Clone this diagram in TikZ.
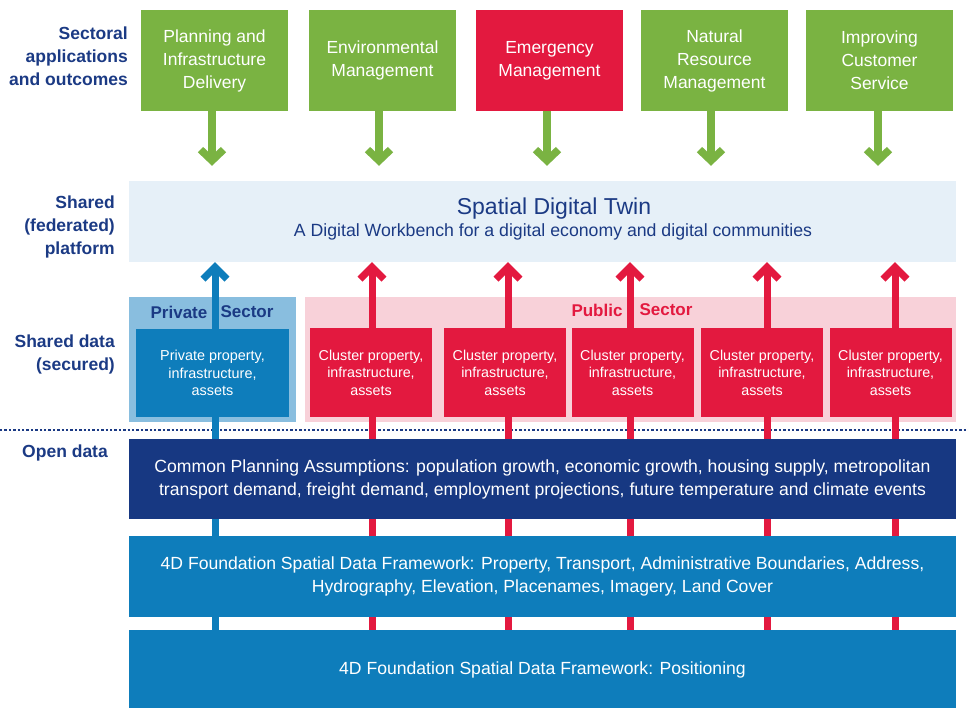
\documentclass[tikz,border=0pt]{standalone}
\usepackage{fontspec}
\setmainfont{Liberation Sans}
\usetikzlibrary{arrows.meta}
\definecolor{dtgreen}{HTML}{7AB342}
\definecolor{dtred}{HTML}{E3193F}
\definecolor{dtnavy}{HTML}{1B3A84}
\definecolor{dtband}{HTML}{173882}
\definecolor{dtblue}{HTML}{0E7DBB}
\definecolor{dtlight}{HTML}{E6F0F8}
\definecolor{dtprivate}{HTML}{89BEDF}
\definecolor{dtpink}{HTML}{F8D1D9}
\pgfdeclarelayer{bg}
\pgfdeclarelayer{mid}
\pgfsetlayers{bg,mid,main}
\tikzset{
  sidelabel/.style={anchor=east, align=right, text=dtnavy, inner sep=0pt,
    font=\fontsize{17.5}{23}\selectfont\bfseries},
  topbox/.style={rectangle, inner sep=0pt, minimum width=147pt, minimum height=101pt,
    align=center, text=white, font=\fontsize{17.5}{23}\selectfont},
  clusterbox/.style={rectangle, fill=dtred, inner sep=0pt, minimum width=122pt, minimum height=89pt,
    align=center, text=white, font=\fontsize{14.3}{17.5}\selectfont},
  band/.style={rectangle, inner sep=0pt, minimum width=827pt, align=center, text=white,
    font=\fontsize{17.6}{23}\selectfont},
  sectorlabel/.style={inner sep=0pt, font=\fontsize{17}{20}\selectfont\bfseries},
  downarrow/.style={draw=dtgreen, line width=8pt,
    -{Straight Barb[length=11pt, width=23pt, line width=7.5pt]}, shorten >=15pt},
  uparrow/.style={line width=7pt,
    -{Straight Barb[length=12pt, width=24pt, line width=7pt]}},
}
\begin{document}
\begin{tikzpicture}[x=1pt, y=-1pt]
\useasboundingbox (0,0) rectangle (966,707);

% side labels
\node[sidelabel] (lsect) at (128,56) {Sectoral\\applications\\and outcomes};
\node[sidelabel] (lplat) at (115,227) {Shared\\(federated)\\platform};
\node[sidelabel] (lsdata) at (115,354.5) {Shared data\\(secured)};
\node[sidelabel] (lopen) at (108,453) {Open data};

% top boxes
\node[topbox, fill=dtgreen] (g1) at (214.5,60.5) {Planning and\\Infrastructure\\Delivery};
\node[topbox, fill=dtgreen] (g2) at (382.5,60.5) {Environmental\\Management};
\node[topbox, fill=dtred]   (g3) at (549.5,60.5) {Emergency\\Management};
\node[topbox, fill=dtgreen] (g4) at (714.5,60.5) {Natural\\Resource\\Management};
\node[topbox, fill=dtgreen] (g5) at (879.5,60.5) {Improving\\Customer\\Service};

% platform
\node[rectangle, fill=dtlight, inner sep=0pt, minimum width=827pt, minimum height=81pt] (plat) at (542.5,221.5) {};
\node[inner sep=0pt, text=dtnavy, font=\fontsize{23}{26}\selectfont] (ptitle) at (554,208.5) {Spatial Digital Twin};
\node[inner sep=0pt, text=dtnavy, font=\fontsize{17.7}{20}\selectfont] (psub) at (553,232) {A Digital Workbench for a digital economy and digital communities};

% green arrows
\foreach \g/\dx in {g1/-2.5, g2/-3.5, g3/-2.5, g4/-3.5, g5/-1.5}
  \draw[downarrow] ([xshift=\dx pt]\g.south) -- ([xshift=\dx pt]\g.south |- plat.north);

% sector outer boxes
\begin{pgfonlayer}{bg}
\node[rectangle, fill=dtprivate, inner sep=0pt, minimum width=167pt, minimum height=125pt] (privout) at (212.5,359.5) {};
\node[rectangle, fill=dtpink, inner sep=0pt, minimum width=651pt, minimum height=125pt] (pubout) at (630.5,359.5) {};
\coordinate (dl) at (0,430);
\coordinate (dr) at (966,430);
\draw[dtnavy, line width=2.4pt, dash pattern=on 2.4pt off 2pt] (dl) -- (dr);
\end{pgfonlayer}

\node[sectorlabel, text=dtnavy] (privA) at (179,312) {Private};
\node[sectorlabel, text=dtnavy] (privB) at (247,312) {Sector};
\node[sectorlabel, text=dtred] (pubA) at (597,310) {Public};
\node[sectorlabel, text=dtred] (pubB) at (666,310) {Sector};

% inner boxes
\node[rectangle, fill=dtblue, inner sep=0pt, minimum width=153pt, minimum height=88pt,
  align=center, text=white, font=\fontsize{14.4}{17.5}\selectfont] (priv) at (212.5,373) {Private property,\\infrastructure,\\assets};
\node[clusterbox] (c1) at (371,372.5) {Cluster property,\\infrastructure,\\assets};
\node[clusterbox] (c2) at (505,372.5) {Cluster property,\\infrastructure,\\assets};
\node[clusterbox] (c3) at (632.5,372.5) {Cluster property,\\infrastructure,\\assets};
\node[clusterbox] (c4) at (762,372.5) {Cluster property,\\infrastructure,\\assets};
\node[clusterbox] (c5) at (890.5,372.5) {Cluster property,\\infrastructure,\\assets};

% bands
\node[band, fill=dtband, minimum height=80pt] (common) at (542.5,479) {Common Planning Assumptions: population growth, economic growth, housing supply, metropolitan\\transport demand, freight demand, employment projections, future temperature and climate events};
\node[band, fill=dtblue, minimum height=81pt] (fsdf) at (542.5,576.5) {4D Foundation Spatial Data Framework: Property, Transport, Administrative Boundaries, Address,\\Hydrography, Elevation, Placenames, Imagery, Land Cover};
\node[band, fill=dtblue, minimum height=79pt] (pos) at (542.5,669.5) {4D Foundation Spatial Data Framework: Positioning};

% up arrows
\begin{pgfonlayer}{mid}
\coordinate (b0) at (215,650);
\coordinate (b1) at (372,650);
\coordinate (b2) at (508,650);
\coordinate (b3) at (630,650);
\coordinate (b4) at (767,650);
\coordinate (b5) at (895,650);
\draw[uparrow, draw=dtblue] (b0) -- (b0 |- plat.south);
\foreach \b in {b1,b2,b3,b4,b5}
  \draw[uparrow, draw=dtred] (\b) -- (\b |- plat.south);
\end{pgfonlayer}
\end{tikzpicture}
\end{document}
